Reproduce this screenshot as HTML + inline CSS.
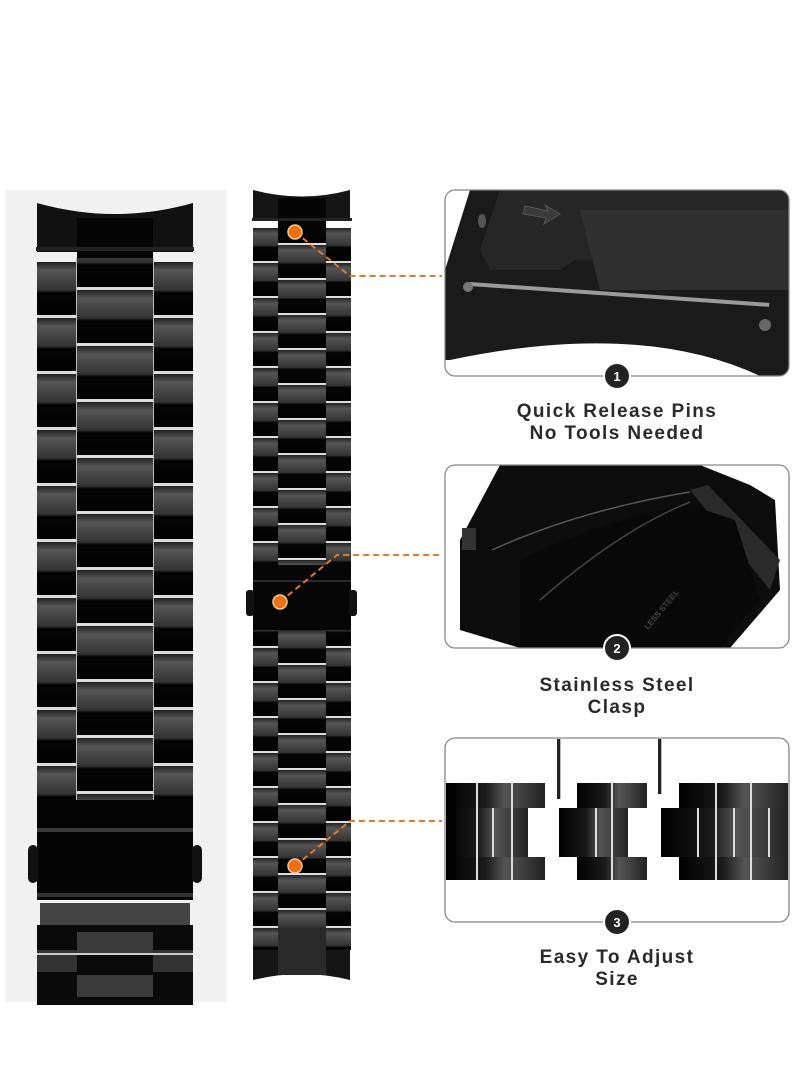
<!DOCTYPE html>
<html><head><meta charset="utf-8"><style>
html,body{margin:0;padding:0;background:#fff;}
svg{display:block;}
text{font-family:"Liberation Sans","DejaVu Sans",sans-serif;font-weight:bold;}
</style></head><body>
<svg width="800" height="1091" viewBox="0 0 800 1091" xmlns="http://www.w3.org/2000/svg">
<defs>
<linearGradient id="lk" x1="0" y1="0" x2="0" y2="1">
<stop offset="0" stop-color="#222"/><stop offset="0.15" stop-color="#555"/><stop offset="0.5" stop-color="#333"/><stop offset="0.55" stop-color="#050505"/><stop offset="1" stop-color="#000"/></linearGradient>
<linearGradient id="lh" x1="0" y1="0" x2="1" y2="0">
<stop offset="0" stop-color="#000"/><stop offset="0.4" stop-color="#1a1a1a"/><stop offset="0.6" stop-color="#555"/><stop offset="1" stop-color="#222"/></linearGradient>
<pattern id="sideL" x="0" y="262" width="40" height="56" patternUnits="userSpaceOnUse">
<rect width="40" height="56" fill="url(#lk)"/><rect y="53" width="40" height="3" fill="#ddd"/></pattern>
<pattern id="cenL" x="0" y="290" width="76" height="56" patternUnits="userSpaceOnUse">
<rect width="76" height="56" fill="url(#lk)"/><rect y="53" width="76" height="3" fill="#ddd"/></pattern>
<pattern id="sideM" x="0" y="228" width="25" height="35" patternUnits="userSpaceOnUse">
<rect width="25" height="35" fill="url(#lk)"/><rect y="33" width="25" height="2" fill="#ddd"/></pattern>
<pattern id="cenM" x="0" y="245" width="48" height="35" patternUnits="userSpaceOnUse">
<rect width="48" height="35" fill="url(#lk)"/><rect y="33" width="48" height="2" fill="#ddd"/></pattern>
</defs>

<rect x="5" y="190" width="222" height="812" fill="#f1f1f1"/>
<path d="M37 203 Q115 225 193 203 L193 252 L37 252 Z" fill="#111"/>
<rect x="77" y="218" width="76" height="40" fill="#050505"/>
<rect x="36" y="247" width="158" height="4" fill="#222"/>
<rect x="37" y="262" width="40" height="538" fill="url(#sideL)"/>
<rect x="153" y="262" width="40" height="538" fill="url(#sideL)"/>
<rect x="77" y="258" width="76" height="542" fill="url(#cenL)"/>
<rect x="76" y="258" width="1" height="542" fill="#bbb"/><rect x="153" y="258" width="1" height="542" fill="#bbb"/>
<rect x="37" y="800" width="156" height="100" fill="#050505"/>
<rect x="37" y="828" width="156" height="4" fill="#3a3a3a"/>
<rect x="37" y="893" width="156" height="4" fill="#333"/>
<rect x="40" y="903" width="150" height="22" fill="#444"/>
<rect x="28" y="845" width="10" height="38" rx="5" fill="#111"/>
<rect x="192" y="845" width="10" height="38" rx="5" fill="#111"/>
<rect x="37" y="925" width="156" height="80" fill="#0a0a0a"/>
<rect x="77" y="932" width="76" height="22" fill="#3a3a3a"/>
<rect x="77" y="975" width="76" height="22" fill="#3a3a3a"/>
<rect x="37" y="950" width="40" height="22" fill="#333"/><rect x="153" y="950" width="40" height="22" fill="#333"/>
<rect x="37" y="953" width="156" height="2" fill="#ccc"/>

<path d="M253 190 Q302 203 350 190 L350 220 L253 220 Z" fill="#151515"/>
<rect x="278" y="198" width="48" height="40" fill="#050505"/>
<rect x="252" y="218" width="100" height="3" fill="#222"/>
<rect x="253" y="228" width="25" height="337" fill="url(#sideM)"/>
<rect x="326" y="228" width="25" height="337" fill="url(#sideM)"/>
<rect x="278" y="238" width="48" height="327" fill="url(#cenM)"/>
<rect x="253" y="565" width="98" height="65" fill="#060606"/>
<rect x="253" y="580" width="98" height="2" fill="#2a2a2a"/>
<rect x="246" y="590" width="8" height="26" rx="3" fill="#111"/>
<rect x="349" y="590" width="8" height="26" rx="3" fill="#111"/>
<rect x="253" y="630" width="25" height="320" fill="url(#sideM)"/>
<rect x="326" y="630" width="25" height="320" fill="url(#sideM)"/>
<rect x="278" y="630" width="48" height="320" fill="url(#cenM)"/>
<rect x="278" y="928" width="48" height="40" fill="#2a2a2a"/>
<path d="M253 950 L350 950 L350 980 Q302 968 253 980 Z" fill="#151515"/>
<rect x="278" y="950" width="48" height="25" fill="#2a2a2a"/>

<g fill="none">
<path d="M295 232 L350 276 L442 276" stroke="#e07a2a" stroke-width="2" stroke-dasharray="6 4"/>
<path d="M280 602 L337 555 L442 555" stroke="#e07a2a" stroke-width="2" stroke-dasharray="6 4"/>
<path d="M295 866 L350 821 L442 821" stroke="#e07a2a" stroke-width="2" stroke-dasharray="6 4"/>
</g>
<circle cx="295" cy="232" r="7" fill="#f07010" stroke="#f4c8a0" stroke-width="1.5"/>
<circle cx="280" cy="602" r="7" fill="#f07010" stroke="#f4c8a0" stroke-width="1.5"/>
<circle cx="295" cy="866" r="7" fill="#f07010" stroke="#f4c8a0" stroke-width="1.5"/>

<clipPath id="c1"><rect x="445" y="190" width="344" height="186" rx="10"/></clipPath>
<g clip-path="url(#c1)">
<rect x="445" y="190" width="344" height="186" fill="#fff"/>
<path d="M470 190 L789 190 L789 376 L760 376 Q640 320 450 360 L445 360 L445 270 Z" fill="#1a1a1a"/>
<path d="M500 190 L789 190 L789 260 L575 260 L560 270 L490 270 L480 250 Z" fill="#262626"/>
<path d="M580 210 L789 210 L789 290 L600 290 Z" fill="#303030"/>
<rect x="470" y="282" width="300" height="4" fill="#9a9a9a" transform="rotate(4 470 282)"/>
<circle cx="468" cy="287" r="5" fill="#777"/>
<circle cx="765" cy="325" r="6" fill="#666"/>
<ellipse cx="482" cy="221" rx="4" ry="7" fill="#555"/>
<path d="M525 206 L548 211 L545 205 L560 214 L544 224 L546 218 L523 214 Z" fill="#3a3a3a" stroke="#555"/>
</g>
<rect x="445" y="190" width="344" height="186" rx="10" fill="none" stroke="#888" stroke-width="1.3"/>

<clipPath id="c2"><rect x="445" y="465" width="344" height="183" rx="10"/></clipPath>
<g clip-path="url(#c2)">
<rect x="445" y="465" width="344" height="183" fill="#fff"/>
<path d="M500 465 L700 465 L750 485 L775 500 L780 590 L730 648 L520 648 L460 630 L460 540 Z" fill="#0c0c0c"/>
<path d="M690 490 L708 485 L780 560 L770 590 Z" fill="#2a2a2a"/>
<path d="M520 560 Q600 520 690 505 L735 520 L760 600 L720 648 L520 648 Z" fill="#080808"/>
<path d="M492 550 Q580 510 690 492" stroke="#555" stroke-width="1.5" fill="none"/>
<path d="M540 600 Q620 530 690 502" stroke="#444" stroke-width="1.5" fill="none"/>
<rect x="462" y="528" width="14" height="22" fill="#333"/>
<text x="648" y="630" font-size="8" fill="#444" transform="rotate(-50 648 630)">LESS STEEL</text>
</g>
<rect x="445" y="465" width="344" height="183" rx="10" fill="none" stroke="#888" stroke-width="1.3"/>

<rect x="445" y="738" width="344" height="184" rx="10" fill="#fff" stroke="#888" stroke-width="1.3"/>
<g>
<rect x="446" y="783" width="99" height="25" fill="url(#lh)"/>
<rect x="446" y="857" width="99" height="23" fill="url(#lh)"/>
<rect x="446" y="808" width="82" height="49" fill="url(#lh)"/>
<rect x="446" y="783" width="10" height="97" fill="#000"/>
<rect x="577" y="783" width="70" height="25" fill="url(#lh)"/>
<rect x="577" y="857" width="70" height="23" fill="url(#lh)"/>
<rect x="559" y="808" width="69" height="49" fill="url(#lh)"/>
<rect x="679" y="783" width="109" height="25" fill="url(#lh)"/>
<rect x="679" y="857" width="109" height="23" fill="url(#lh)"/>
<rect x="661" y="808" width="127" height="49" fill="url(#lh)"/>
<g fill="#ddd">
<rect x="476" y="783" width="2" height="97"/><rect x="511" y="783" width="2" height="97"/>
<rect x="611" y="783" width="2" height="97"/><rect x="595" y="808" width="2" height="49"/>
<rect x="715" y="783" width="2" height="97"/><rect x="750" y="783" width="2" height="97"/>
<rect x="697" y="808" width="2" height="49"/><rect x="733" y="808" width="2" height="49"/><rect x="768" y="808" width="2" height="49"/>
<rect x="492" y="808" width="2" height="49"/>
</g>
<rect x="557" y="739" width="3" height="60" fill="#222"/><rect x="560" y="739" width="1" height="60" fill="#bbb"/>
<rect x="658" y="739" width="3" height="55" fill="#222"/><rect x="661" y="739" width="1" height="55" fill="#bbb"/>
</g>

<g font-size="13" text-anchor="middle">
<circle cx="617" cy="376" r="13" fill="#222" stroke="#fff" stroke-width="2"/><text x="617" y="381" fill="#fff">1</text>
<circle cx="617" cy="648" r="13" fill="#222" stroke="#fff" stroke-width="2"/><text x="617" y="653" fill="#fff">2</text>
<circle cx="617" cy="922" r="13" fill="#222" stroke="#fff" stroke-width="2"/><text x="617" y="927" fill="#fff">3</text>
</g>

<g font-size="19" fill="#2a2a2a" text-anchor="middle" letter-spacing="1.4">
<text x="617" y="417">Quick Release Pins</text>
<text x="617" y="439">No Tools Needed</text>
<text x="617" y="691">Stainless Steel</text>
<text x="617" y="713">Clasp</text>
<text x="617" y="963">Easy To Adjust</text>
<text x="617" y="985">Size</text>
</g>
</svg>
</body></html>
